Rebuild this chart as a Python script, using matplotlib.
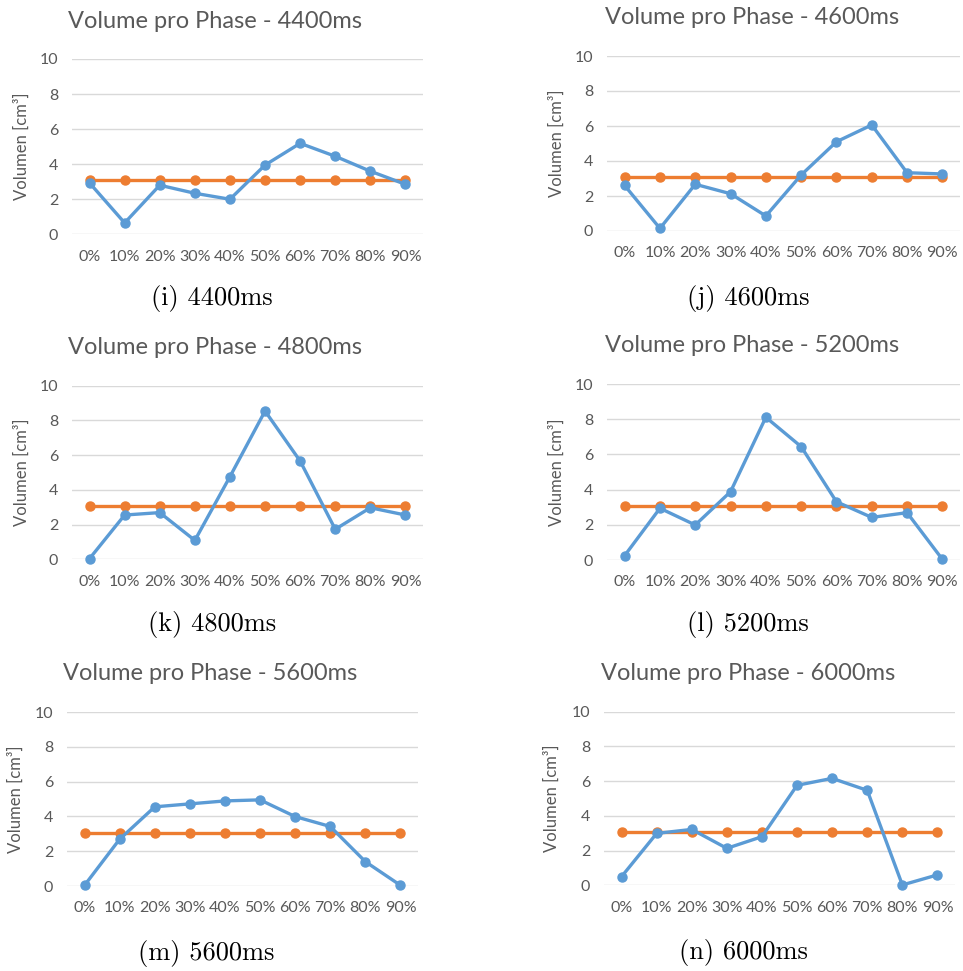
import numpy as np
import matplotlib
matplotlib.use("Agg")
import matplotlib.pyplot as plt

phases = ["0%", "10%", "20%", "30%", "40%", "50%", "60%", "70%", "80%", "90%"]

vol_4400 = [2.93, 0.65, 2.80, 2.34, 2.00, 3.95, 5.19, 4.45, 3.60, 2.85]
vol_4600 = [2.60, 0.15, 2.67, 2.13, 0.86, 3.20, 5.10, 6.06, 3.33, 3.26]
vol_4800 = [0.04, 2.55, 2.69, 1.09, 4.76, 8.54, 5.66, 1.73, 2.97, 2.55]
vol_5200 = [0.25, 2.94, 1.99, 3.88, 8.11, 6.44, 3.31, 2.42, 2.69, 0.04]
vol_5600 = [0.04, 2.69, 4.55, 4.72, 4.89, 4.95, 3.99, 3.42, 1.40, 0.04]
vol_6000 = [0.50, 2.99, 3.22, 2.13, 2.80, 5.76, 6.16, 5.47, 0.02, 0.60]
mean_vol = [3.07] * 10

times = ["4400ms", "4600ms", "4800ms", "5200ms", "5600ms", "6000ms"]
captions = ["(i)", "(j)", "(k)", "(l)", "(m)", "(n)"]
series = [vol_4400, vol_4600, vol_4800, vol_5200, vol_5600, vol_6000]

W, H = 963, 971
# plot area in pixels: x0, x1, ytop, ybottom
boxes = [(72, 423, 59, 234.3), (607, 960, 56, 231),
         (72, 423, 385.7, 559.3), (607, 960, 384, 560),
         (67, 418, 712, 886), (604, 955, 711.7, 885.3)]
title_pos = [(215, 21), (752, 17), (215, 347), (752, 346), (210, 674), (748, 673)]
cap_pos = [(212, 298), (748, 298), (212, 624), (748, 624), (206, 953), (743, 952)]
ylab_x = [22, 557, 22, 557, 16, 552]

BLUE = "#5B9BD5"
ORANGE = "#ED7D31"
GRAY = "#595959"
GRID = "#D9D9D9"
FONT = "Lato"

fig = plt.figure(figsize=(W / 100, H / 100), dpi=100)

for i, vals in enumerate(series):
    x0, x1, yt, yb = boxes[i]
    ax = fig.add_axes([x0 / W, 1 - yb / H, (x1 - x0) / W, (yb - yt) / H])
    x = np.arange(len(phases))
    ax.plot(x, mean_vol, color=ORANGE, lw=2.4, marker="o", ms=6.5, clip_on=False, zorder=3)
    ax.plot(x, vals, color=BLUE, lw=2.4, marker="o", ms=6.5, clip_on=False, zorder=4)
    ax.set_xlim(-0.5, 9.5)
    ax.set_ylim(0, 10)
    ax.set_yticks(range(0, 11, 2))
    ax.set_xticks(x)
    ax.set_xticklabels(phases)
    for s in ax.spines.values():
        s.set_visible(False)
    ax.grid(axis="y", color=GRID, lw=1)
    ax.set_axisbelow(True)
    ax.tick_params(length=0, colors=GRAY, labelsize=11.5)
    ax.tick_params(axis="y", pad=10)
    ax.tick_params(axis="x", pad=11)
    for lab in ax.get_xticklabels() + ax.get_yticklabels():
        lab.set_fontfamily(FONT)

    fig.text(ylab_x[i] / W, 1 - (yt + yb) / 2 / H, "Volumen [cm³]", rotation=90,
             ha="center", va="center", color=GRAY, fontsize=12, family=FONT)
    tx, ty = title_pos[i]
    fig.text(tx / W, 1 - ty / H, "Volume pro Phase - " + times[i], ha="center",
             va="center", color=GRAY, fontsize=17, family=FONT)
    cx, cy = cap_pos[i]
    fig.text(cx / W, 1 - cy / H, captions[i] + " " + times[i], ha="center",
             va="center", color="black", fontsize=19, family="cmr10")

fig.savefig("out.png", dpi=100, facecolor="white")
